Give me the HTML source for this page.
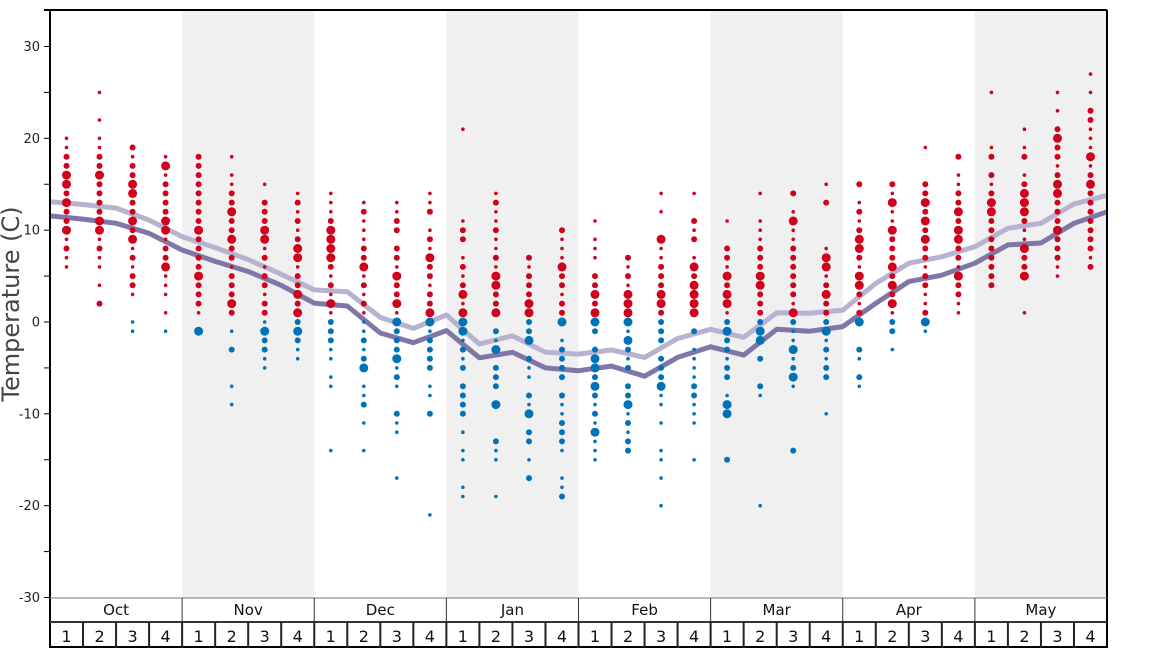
<!DOCTYPE html>
<html><head><meta charset="utf-8">
<style>
html,body{margin:0;padding:0;background:#fff;}
svg{display:block;font-family:"DejaVu Sans","Liberation Sans",sans-serif;}
</style></head>
<body>
<svg id="chart" width="1168" height="648" viewBox="0 0 1168 648" xmlns="http://www.w3.org/2000/svg">
<g id="bands"></g><g id="lines"></g><g id="dots"></g><g id="axes"></g>
</svg>
<script>
const months = ["Oct","Nov","Dec","Jan","Feb","Mar","Apr","May"];
const yTicks = [30,20,10,0,-10,-20,-30];
const weekObs = [
"20s 19s 18m 17m 16L 15L 14m 13L 12m 11m 10L 9s 8m 7s 6s",
"25s 22s 20s 19s 18m 17m 16L 15m 14m 13m 12m 11L 10L 9s 8m 7s 6s 4s 2m",
"19m 18s 17m 16m 15L 14L 13m 12m 11L 10m 9L 8s 7m 6s 5m 4m 3s 0s -1s",
"18s 17L 16s 15m 14m 13m 12m 11L 10L 9s 8m 7m 6L 5s 4s 3s 1s -1s",
"18m 17m 16m 15m 14m 13m 12m 11m 10L 9m 8m 7m 6m 5L 4m 3m 2m 1s -1L",
"18s 16s 15s 14m 13m 12L 11m 10m 9L 8m 7m 6s 5m 4m 3m 2L 1m -1s -3m -7s -9s",
"15s 13m 12m 11m 10L 9L 8s 7m 6s 5m 4m 3s 2m 1m 0s -1L -2m -3m -4s -5s",
"14s 13m 12s 11m 10s 9m 8L 7L 6s 5m 4m 3L 2m 1L 0m -1L -2m -3s -4s",
"14s 13s 12s 11m 10L 9L 8L 7L 6m 5s 4m 3s 2L 1s 0m -1m -2m -3s -4s -6s -7s -14s",
"13s 12m 11s 10s 9s 8m 7m 6L 5s 4m 3s 2m 1s 0s -1s -2m -3s -4m -5L -7s -8s -9m -11s -14s",
"13s 12s 11m 10m 8m 7m 6s 5L 4m 3m 2L 1s 0L -1m -2m -3m -4L -5s -6m -7s -10m -11s -12s -17s",
"14s 13s 12m 10s 9m 8s 7L 6m 5m 4s 3m 2m 1L 0L -1s -2m -3m -4m -5m -7s -8s -10m -21s",
"21s 11s 10m 9m 7s 6m 5s 4m 3L 2s 1L 0L -1L -2s -3m -4s -5m -7m -8m -9m -10m -12s -14s -15s -18s -19s",
"14s 13m 12s 11s 10m 9s 8s 7m 6s 5L 4L 3m 2m 1L -1m -2s -3L -5m -6m -7m -9L -13m -14s -15s -19s",
"7m 6s 5m 4m 3m 2L 1L 0m -1m -2L -4m -5s -6s -8m -9s -10L -12m -13m -15s -17m",
"10m 9s 8s 7s 6L 5m 4m 3s 2m 1m 0L -2s -3m -4m -5m -6m -8m -9s -10s -11m -12m -13m -14s -17s -18s -19m",
"11s 9s 8s 7s 5m 4m 3L 2m 1L 0L -1m -3m -4L -5L -6m -7L -8m -9s -10m -11s -12L -13s -14s -15s",
"7m 6s 5m 4s 3L 2L 1L 0L -1s -2L -3m -4s -5m -7m -8m -9L -10s -11m -12s -13m -14m",
"14s 12s 9L 8s 7s 6m 5m 4m 3L 2L 1m 0m -1m -2m -4m -5m -6m -7L -8s -9s -11s -14s -15s -17s -20s",
"14s 11m 10s 9m 7s 6L 5m 4L 3L 2L 1L -1m -3s -4s -5s -6s -7m -8m -9s -10s -11s -15s",
"11s 8m 7m 6s 5L 4m 3L 2L 1s 0m -1L -2m -3m -4s -5m -6m -8s -9L -10L -15m",
"14s 11s 10s 9s 8m 7m 6m 5L 4L 3m 2m 1m 0m -1L -2L -4m -7m -8s -20s",
"14m 12s 11L 10s 9s 8m 7m 6m 5m 4m 3m 2s 1L 0m -1s -2s -3L -4s -5m -6L -7s -14m",
"15s 13m 8s 7L 6L 5s 4m 3L 2m 1m 0m -1L -2s -3m -4s -5m -6m -10s",
"15m 13s 12m 11s 10m 9L 8L 7m 6s 5L 4L 3m 2s 1m 0L -3m -4s -6m -7s",
"15m 14s 13L 12s 11s 10L 9m 8m 7m 6L 5m 4L 3m 2L 1s 0m -1m -3s",
"19s 15m 14m 13L 12m 11L 10m 9L 8m 7m 6s 5m 4m 3s 2s 1m 0L -1s",
"18m 16s 15s 14m 13m 12L 11m 10L 9L 8m 7m 6s 5L 4m 3m 2s 1s",
"25s 19s 18m 16m 15s 14m 13L 12L 11m 10m 9m 8m 7m 6m 5m 4m",
"21s 19s 18m 16s 15m 14L 13L 12L 11m 10s 9s 8L 7m 6m 5L 1s",
"25s 23s 21m 20L 19m 18m 17s 16m 15L 14L 13m 12m 11m 10L 9m 8m 7m 6s 5s",
"27s 25s 23m 22m 21s 20s 19s 18L 17s 16m 15L 14m 13m 12m 11m 10m 9m 8m 7s 6m"
];
const meanLow = [11.55,11.2,10.75,9.66,7.84,6.6,5.5,4.0,2.05,1.74,-1.2,-2.25,-0.94,-3.9,-3.3,-5.0,-5.3,-4.8,-5.9,-3.85,-2.7,-3.6,-0.8,-1.0,-0.5,2.04,4.4,5.1,6.4,8.4,8.6,10.75,12.0];
const meanHigh = [13.1,12.8,12.4,11.1,9.3,8.1,6.8,5.2,3.5,3.3,0.5,-0.7,0.76,-2.4,-1.5,-3.3,-3.5,-3.05,-3.85,-1.8,-0.8,-1.67,1.0,0.95,1.3,4.2,6.4,7.1,8.2,10.2,10.75,12.85,13.8];

const NS="http://www.w3.org/2000/svg";
const X0=50,X1=1107,TOP=10,BOT=598;
const colW=(X1-X0)/32;
function yScale(t){return 322 - t*(BOT-47)/60;}
function xCol(i){return X0+(i+0.5)*colW;}
function xBound(i){return X0+i*colW;}
function mk(tag,attrs,parent){const e=document.createElementNS(NS,tag);for(const k in attrs)e.setAttribute(k,attrs[k]);parent.appendChild(e);return e;}
const bands=document.getElementById('bands'),lines=document.getElementById('lines'),dots=document.getElementById('dots'),axes=document.getElementById('axes');

months.forEach((m,mi)=>{
  if(mi%2===1){
    const r=mk('rect',{x:xBound(mi*4),y:TOP,width:colW*4,height:BOT-TOP,fill:'#f0f0f0'},bands);
    
    
  }
});

function linePath(vals){return vals.map((v,i)=>(i?'L':'M')+xBound(i).toFixed(1)+' '+yScale(v).toFixed(1)).join(' ');}
const lh=mk('path',{d:linePath(meanHigh),fill:'none',stroke:'#b8b2d0','stroke-width':5,'stroke-linejoin':'round'},lines);


const ll=mk('path',{d:linePath(meanLow),fill:'none',stroke:'#8176a8','stroke-width':5,'stroke-linejoin':'round'},lines);



const radius={s:1.8,m:3.0,L:4.5};
weekObs.forEach((str,i)=>{
  str.split(' ').forEach(tok=>{
    const sz=tok.slice(-1),t=parseFloat(tok.slice(0,-1));
    const c=mk('circle',{cx:xCol(i).toFixed(1),cy:yScale(t).toFixed(1),r:radius[sz],fill:t>0?'#d0021b':'#0072b8'},dots);
    
    
  });
});

// axes
mk('line',{x1:44,y1:TOP,x2:X1,y2:TOP,stroke:'#000','stroke-width':2},axes);
mk('line',{x1:X1,y1:TOP,x2:X1,y2:648,stroke:'#000','stroke-width':2},axes);
mk('line',{x1:X0,y1:TOP-1,x2:X0,y2:648,stroke:'#000','stroke-width':2},axes);
for(let t=-30;t<=30;t+=5){
  mk('line',{x1:44,y1:yScale(t),x2:X0,y2:yScale(t),stroke:'#000','stroke-width':1},axes);
}
yTicks.forEach(t=>{
  const tx=mk('text',{x:40,y:yScale(t)+4.5,'text-anchor':'end','font-size':13,fill:'#222'},axes);
  tx.textContent=t;
  
  
});
const yt=mk('text',{x:0,y:0,transform:'translate(19,304) rotate(-90)','text-anchor':'middle','font-size':24,fill:'#444'},axes);
yt.textContent='Temperature (C)';



// bottom month/week rows
mk('line',{x1:X0,y1:BOT,x2:X1,y2:BOT,stroke:'#777','stroke-width':1},axes);
mk('line',{x1:X0,y1:622,x2:X1,y2:622,stroke:'#333','stroke-width':2},axes);
mk('line',{x1:X0,y1:647,x2:X1,y2:647,stroke:'#000','stroke-width':2},axes);
months.forEach((m,mi)=>{
  if(mi>0) mk('line',{x1:xBound(mi*4),y1:BOT,x2:xBound(mi*4),y2:622,stroke:'#333','stroke-width':1},axes);
  const t=mk('text',{x:xBound(mi*4)+colW*2,y:615,'text-anchor':'middle','font-size':15,fill:'#111'},axes);
  t.textContent=m;
  
  
});
for(let i=0;i<32;i++){
  if(i>0) mk('line',{x1:xBound(i),y1:622,x2:xBound(i),y2:648,stroke:'#222','stroke-width':2},axes);
  const t=mk('text',{x:xCol(i),y:642,'text-anchor':'middle','font-size':16,fill:'#111'},axes);
  t.textContent=(i%4)+1;
  
  
}
</script>
</body></html>
